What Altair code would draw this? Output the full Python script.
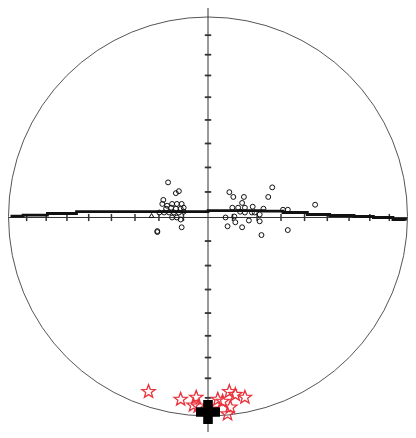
import altair as alt
import pandas as pd

# --- data (net units: primitive circle radius = 100) ---
tick_r = [12.3, 24.6, 36.6, 48.4, 59.8, 70.7, 81.1, 90.9]

girdle_x = [-99.0, -92.7, -80.5, -65.9, 0.0, 27.8, 37.6, 49.8, 61.0, 73.2, 82.9, 92.7, 99.0]
girdle_y = [0.2, 0.7, 1.5, 2.4, 2.9, 2.7, 2.0, 1.0, 0.5, 0.0, -0.5, -1.5, -2.0]

circ_x = [-20.0, -14.6, -16.1, -22.4, -22.9, -20.5, -18.0, -15.6, -13.2, -21.0, -18.5, -16.1,
          -13.7, -12.2, -24.4, -22.0, -19.5, -17.1, -14.6, -12.2, -18.0, -15.6, -13.7, -25.4,
          -25.4, -13.2,
          32.2, 10.7, 12.7, 18.0, 30.2, 17.1, 53.7, 12.2, 15.1, 18.5, 22.4, 27.8, 37.6, 40.0,
          18.5, 23.4, 25.9, 8.8, 13.2, 20.5, 25.9, 13.7, 9.8, 17.1, 26.8, 40.0, 22.0, 16.1]
circ_y = [17.1, 12.7, 11.7, 8.3, 6.3, 5.4, 6.3, 6.3, 6.3, 3.9, 4.4, 3.9,
          3.9, 4.4, 2.0, 2.0, 2.0, 2.0, 2.0, 2.4, -0.5, -0.5, -1.5, -7.8,
          -7.3, -5.4,
          14.6, 12.2, 9.8, 9.8, 9.8, 6.8, 5.9, 4.4, 4.4, 4.4, 4.9, 3.9, 3.4, 3.4,
          2.0, 2.0, 1.0, -0.5, 0.0, -2.0, -2.4, -2.9, -4.9, -5.4, -9.3, -6.8, 2.0, 2.4]

tri_x = [-28.3]
tri_y = [0.5]

star_x = [-29.8, -13.7, -5.9, -4.9, 4.9, 10.7, 18.5, 11.2, 9.8, 1.5, 7.3, 13.7, -7.3]
star_y = [-87.8, -91.7, -90.7, -95.1, -91.7, -87.8, -90.7, -95.6, -99.0, -96.6, -92.7, -89.3, -94.6]

mean_x = [0.0]
mean_y = [-98.0]

W, H = 400, 424
RPX = 199.5          # primitive circle radius in pixels
CX, CY = 200.0, 208.5  # centre inside the plot area
K = RPX / 100.0
XD = [-CX / K, (W - CX) / K]
YD = [-(H - CY) / K, CY / K]

STAR = ("M0,-1L0.247,-0.340L0.951,-0.309L0.399,0.130L0.588,0.809L0,0.42"
        "L-0.588,0.809L-0.399,0.130L-0.951,-0.309L-0.247,-0.340Z")


def X(field="x"):
    return alt.X(f"{field}:Q", scale=alt.Scale(domain=XD, nice=False, zero=False), axis=None)


def Y(field="y"):
    return alt.Y(f"{field}:Q", scale=alt.Scale(domain=YD, nice=False, zero=False), axis=None)


origin = pd.DataFrame({"x": [0.0], "y": [0.0]})

net = alt.Chart(origin).mark_point(
    shape="circle", filled=False, size=(2 * RPX) ** 2, stroke="#555555", strokeWidth=1, opacity=1
).encode(x=X(), y=Y())

vline = alt.Chart(origin).mark_rule(color="#333333", strokeWidth=1).encode(
    x=X(), y=alt.value(0), y2=alt.value(H)
)
hline_df = pd.DataFrame({"x": [-100.0], "x2": [100.0], "y": [-0.5]})
hline = alt.Chart(hline_df).mark_rule(color="#333333", strokeWidth=1).encode(
    x=X(), x2="x2:Q", y=Y()
)

vt = []
for r in tick_r:
    vt.append({"x": -1.6, "x2": 1.6, "y": r})
    vt.append({"x": -1.6, "x2": 1.6, "y": -r})
vticks = alt.Chart(pd.DataFrame(vt)).mark_rule(color="#333333", strokeWidth=1.8).encode(
    x=X(), x2="x2:Q", y=Y()
)
ht = []
for r in tick_r:
    ht.append({"x": r, "y": -2.3, "y2": 1.3})
    ht.append({"x": -r, "y": -2.3, "y2": 1.3})
hticks = alt.Chart(pd.DataFrame(ht)).mark_rule(color="#333333", strokeWidth=1.5).encode(
    x=X(), y=Y(), y2="y2:Q"
)

girdle = alt.Chart(pd.DataFrame({"x": girdle_x, "y": girdle_y, "o": range(len(girdle_x))})).mark_line(
    color="#111111", strokeWidth=2.8, interpolate="step-after"
).encode(x=X(), y=Y(), order="o:Q")

circles = alt.Chart(pd.DataFrame({"x": circ_x, "y": circ_y})).mark_point(
    shape="circle", filled=False, size=24, stroke="#111111", strokeWidth=1, opacity=1
).encode(x=X(), y=Y())

tri = alt.Chart(pd.DataFrame({"x": tri_x, "y": tri_y})).mark_point(
    shape="triangle-up", filled=False, size=22, stroke="#111111", strokeWidth=1, opacity=1
).encode(x=X(), y=Y())

stars = alt.Chart(pd.DataFrame({"x": star_x, "y": star_y})).mark_point(
    shape=STAR, filled=False, size=196, stroke="#e8323c", strokeWidth=1.3, opacity=1
).encode(x=X(), y=Y())

mean = alt.Chart(pd.DataFrame({"x": mean_x, "y": mean_y})).mark_point(
    shape="cross", filled=True, size=576, color="#000000", opacity=1
).encode(x=X(), y=Y())

chart = alt.layer(net, vline, hline, vticks, hticks, girdle, circles, tri, stars, mean).properties(
    width=W, height=H, padding=0, autosize="none"
).configure_view(stroke=None)

chart.save("out.html", embed_options={"renderer": "svg", "actions": False})
